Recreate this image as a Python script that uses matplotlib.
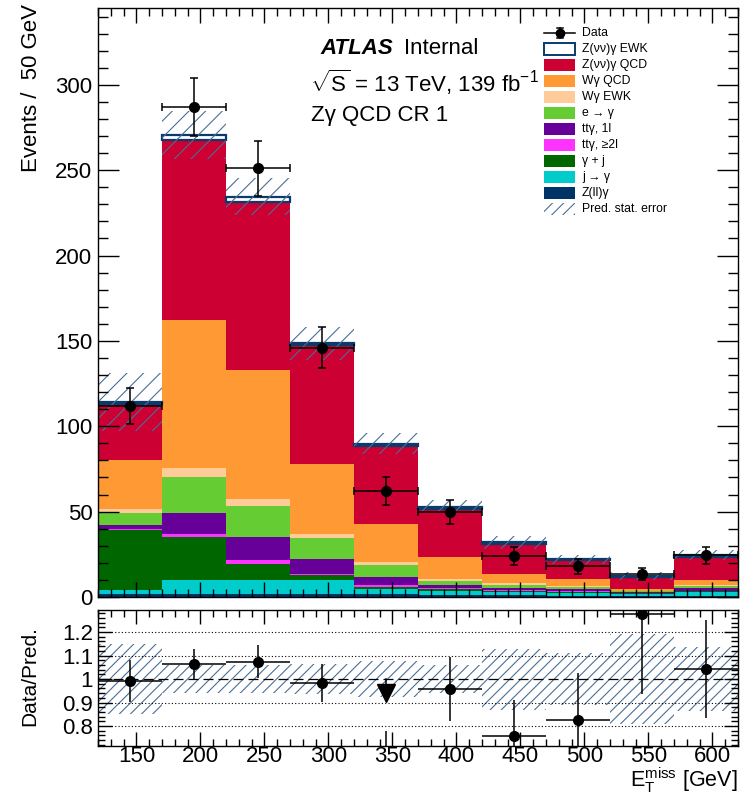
import numpy as np
import matplotlib
matplotlib.use("Agg")
from matplotlib import pyplot as plt
from matplotlib.patches import Rectangle
from matplotlib.lines import Line2D
from matplotlib.ticker import MultipleLocator, FixedLocator, FixedFormatter

plt.rcParams["font.family"] = ["Liberation Sans", "DejaVu Sans"]
plt.rcParams["mathtext.fontset"] = "custom"
plt.rcParams["mathtext.rm"] = "Liberation Sans"
plt.rcParams["mathtext.it"] = "Liberation Sans:italic"
plt.rcParams["hatch.linewidth"] = 0.8

# MET binning, 50 GeV per bin
edges = np.arange(120, 621, 50)
centers = edges[:-1] + 25

# stacked predictions, bottom to top (events / bin)
zll_gamma = [1.5, 1.5, 1.5, 1.5, 1.5, 1.0, 1.0, 0.8, 0.6, 0.8]
j_to_gamma = [2.5, 8.5, 8.5, 8.5, 3.0, 2.5, 2.0, 1.7, 1.4, 2.2]
gamma_jet = [35.0, 25.0, 9.5, 3.0, 1.5, 1.0, 0.5, 0.5, 0.3, 0.5]
ttg_2l = [1.0, 2.0, 2.0, 0.5, 1.0, 0.5, 0.5, 0.3, 0.2, 0.3]
ttg_1l = [2.0, 12.4, 13.9, 9.0, 5.0, 2.0, 1.5, 1.2, 0.5, 1.2]
e_to_gamma = [7.4, 21.1, 17.9, 12.3, 6.8, 2.5, 1.5, 1.5, 0.5, 1.5]
wg_ewk = [2.0, 4.9, 4.3, 2.2, 1.5, 1.0, 1.0, 0.5, 0.3, 0.5]
wg_qcd = [28.6, 86.6, 75.4, 40.8, 22.3, 13.1, 5.7, 4.2, 0.7, 3.0]
zvvg_qcd = [33.3, 105.6, 98.5, 70.0, 45.9, 27.8, 17.2, 10.8, 7.2, 13.4]
zvvg_ewk = [1.0, 3.1, 3.0, 0.9, 1.4, 1.5, 1.3, 0.6, 0.7, 1.2]
pred_stat_err = [17.0, 14.0, 10.7, 9.6, 6.4, 3.7, 3.8, 2.5, 2.2, 3.0]

data = [112, 287, 251, 146, 62, 50, 24, 18, 13.5, 24.5]
data_err = [10.6, 17.0, 16.0, 12.0, 8.0, 7.0, 5.0, 4.3, 3.7, 5.0]

# ratio panel
ratio = [0.993, 1.065, 1.073, 0.984, 0.69, 0.957, 0.759, 0.826, 1.275, 1.043]
ratio_err = [0.09, 0.064, 0.07, 0.08, 0.09, 0.135, 0.15, 0.2, 0.34, 0.21]
ratio_band = [0.15, 0.06, 0.06, 0.065, 0.075, 0.06, 0.13, 0.11, 0.19, 0.135]

stack = [
    (zll_gamma, "#003366", "Z(ll)γ"),
    (j_to_gamma, "#00cccc", "j → γ"),
    (gamma_jet, "#006600", "γ + j"),
    (ttg_2l, "#ff33ff", "ttγ, ≥2l"),
    (ttg_1l, "#660099", "ttγ, 1l"),
    (e_to_gamma, "#66cc33", "e → γ"),
    (wg_ewk, "#ffcc99", "Wγ EWK"),
    (wg_qcd, "#ff9933", "Wγ QCD"),
    (zvvg_qcd, "#cc0033", "Z(νν)γ QCD"),
]
ewk_edge = "#0b3a6b"
hatch_col = "#4a6f96"

W, H = 748, 798
fig = plt.figure(figsize=(W / 100, H / 100), dpi=100)


def fx(x):
    return x / W


def fy(y):
    return 1 - y / H


ax = fig.add_axes([fx(98), fy(597), fx(738) - fx(98), fy(8) - fy(597)])
rax = fig.add_axes([fx(98), fy(746), fx(738) - fx(98), fy(610) - fy(746)])

widths = np.diff(edges)
bottom = np.zeros(len(centers))
for vals, col, lab in stack:
    ax.bar(edges[:-1], vals, width=widths, bottom=bottom, align="edge",
           color=col, linewidth=0)
    bottom += np.array(vals)
ax.bar(edges[:-1], zvvg_ewk, width=widths, bottom=bottom, align="edge",
       facecolor="white", edgecolor=ewk_edge, linewidth=1.6)
total = bottom + np.array(zvvg_ewk)

err = np.array(pred_stat_err)
ax.bar(edges[:-1], 2 * err, width=widths, bottom=total - err, align="edge",
       fill=False, hatch="//", edgecolor=hatch_col, linewidth=0)

ax.errorbar(centers, data, yerr=data_err, xerr=25, fmt="o", color="black",
            markersize=7, elinewidth=1.1, capsize=3, capthick=1.1)

ax.set_xlim(120, 620)
ax.set_ylim(0, 345)
ax.xaxis.set_major_locator(MultipleLocator(50))
ax.xaxis.set_minor_locator(MultipleLocator(10))
ax.yaxis.set_major_locator(MultipleLocator(50))
ax.yaxis.set_minor_locator(MultipleLocator(10))
ax.set_xticklabels([])
ax.tick_params(axis="both", which="both", direction="in", top=True, right=True,
               width=1)
ax.tick_params(axis="y", which="major", length=15, labelsize=16, pad=4)
ax.tick_params(axis="y", which="minor", length=7.5)
ax.tick_params(axis="x", which="major", length=11)
ax.tick_params(axis="x", which="minor", length=5.5)

# ratio panel
band = np.array(ratio_band)
rax.bar(edges[:-1], 2 * band, width=widths, bottom=1 - band, align="edge",
        fill=False, hatch="///", edgecolor=hatch_col, linewidth=0)
for lvl in [0.8, 0.9, 1.1, 1.2]:
    rax.axhline(lvl, color="black", linestyle=(0, (1, 2)), linewidth=0.8)
rax.axhline(1.0, color="black", linestyle=(0, (8, 4)), linewidth=0.9)
rax.errorbar(centers, ratio, yerr=ratio_err, xerr=25, fmt="o", color="black",
             markersize=7, elinewidth=1.1, capsize=0)
# off-scale marker for the bin below the axis range
low = [c for c, r in zip(centers, ratio) if r < 0.715]
for c in low:
    rax.plot([c, c], [1.0, 0.96], color="black", linewidth=1.1)
    rax.plot(c, 0.94, marker="v", markersize=13, color="black")

rax.set_xlim(120, 620)
rax.set_ylim(0.715, 1.294)
rax.xaxis.set_major_locator(MultipleLocator(50))
rax.xaxis.set_minor_locator(MultipleLocator(10))
rax.yaxis.set_major_locator(FixedLocator([0.8, 0.9, 1.0, 1.1, 1.2]))
rax.yaxis.set_major_formatter(FixedFormatter(["0.8", "0.9", "1", "1.1", "1.2"]))
rax.yaxis.set_minor_locator(MultipleLocator(0.02))
rax.tick_params(axis="both", which="both", direction="in", top=True, right=True,
                width=1)
rax.tick_params(axis="both", which="major", length=10, labelsize=16)
rax.tick_params(axis="both", which="minor", length=5)
rax.tick_params(axis="x", which="major", pad=0)

for a in (ax, rax):
    for s in a.spines.values():
        s.set_linewidth(1)

fig.text(fx(32), fy(4), "Events /  50 GeV", rotation=90, ha="center",
         va="top", fontsize=16)
fig.text(fx(30), fy(676), "Data/Pred.", rotation=90, ha="center",
         va="center", fontsize=15)
fig.text(fx(738), fy(787), r"E$_{\mathrm{T}}^{\mathrm{miss}}$ [GeV]",
         ha="right", va="baseline", fontsize=15.5)

fig.text(fx(320), fy(48), "ATLAS", fontsize=16, fontweight="bold",
         fontstyle="italic", va="center")
fig.text(fx(404), fy(48), "Internal", fontsize=16, va="center")
fig.text(fx(310), fy(82), r"$\sqrt{\mathrm{S}}$ = 13 TeV, 139 fb$^{-1}$",
         fontsize=16, va="center")
fig.text(fx(311), fy(116), "Zγ QCD CR 1", fontsize=16, va="center")

# legend, drawn row by row
leg_x0, leg_x1, leg_tx = 544, 575, 582
row_y = 33
row_h = 16
fs = 8.8
fig.add_artist(Line2D([fx(leg_x0), fx(leg_x1)], [fy(row_y), fy(row_y)],
                      color="black", linewidth=1.1))
fig.add_artist(Line2D([fx(559.5), fx(559.5)], [fy(row_y - 5), fy(row_y + 5)],
                      color="black", linewidth=1.1))
for yy in (row_y - 5, row_y + 5):
    fig.add_artist(Line2D([fx(556.5), fx(562.5)], [fy(yy), fy(yy)],
                          color="black", linewidth=1.1))
fig.add_artist(Line2D([fx(559.5)], [fy(row_y)], marker="o", markersize=6,
                      color="black"))
fig.text(fx(leg_tx), fy(row_y), "Data", fontsize=fs, va="center")

entries = [("white", ewk_edge, "Z(νν)γ EWK")]
entries += [(col, col, lab) for vals, col, lab in stack[::-1]]
for i, (fc, ec, lab) in enumerate(entries):
    yc = row_y + row_h * (i + 1)
    fig.add_artist(Rectangle((fx(leg_x0), fy(yc + 6)), fx(leg_x1) - fx(leg_x0),
                             fy(yc - 6) - fy(yc + 6), facecolor=fc,
                             edgecolor=ec, linewidth=1.4 if fc == "white" else 0))
    fig.text(fx(leg_tx), fy(yc), lab, fontsize=fs, va="center")

yc = row_y + row_h * (len(entries) + 1)
fig.add_artist(Rectangle((fx(leg_x0), fy(yc + 6)), fx(leg_x1) - fx(leg_x0),
                         fy(yc - 6) - fy(yc + 6), fill=False, hatch="///",
                         edgecolor=hatch_col, linewidth=0))
fig.text(fx(leg_tx), fy(yc), "Pred. stat. error", fontsize=fs, va="center")

fig.savefig("out.png", dpi=100)
